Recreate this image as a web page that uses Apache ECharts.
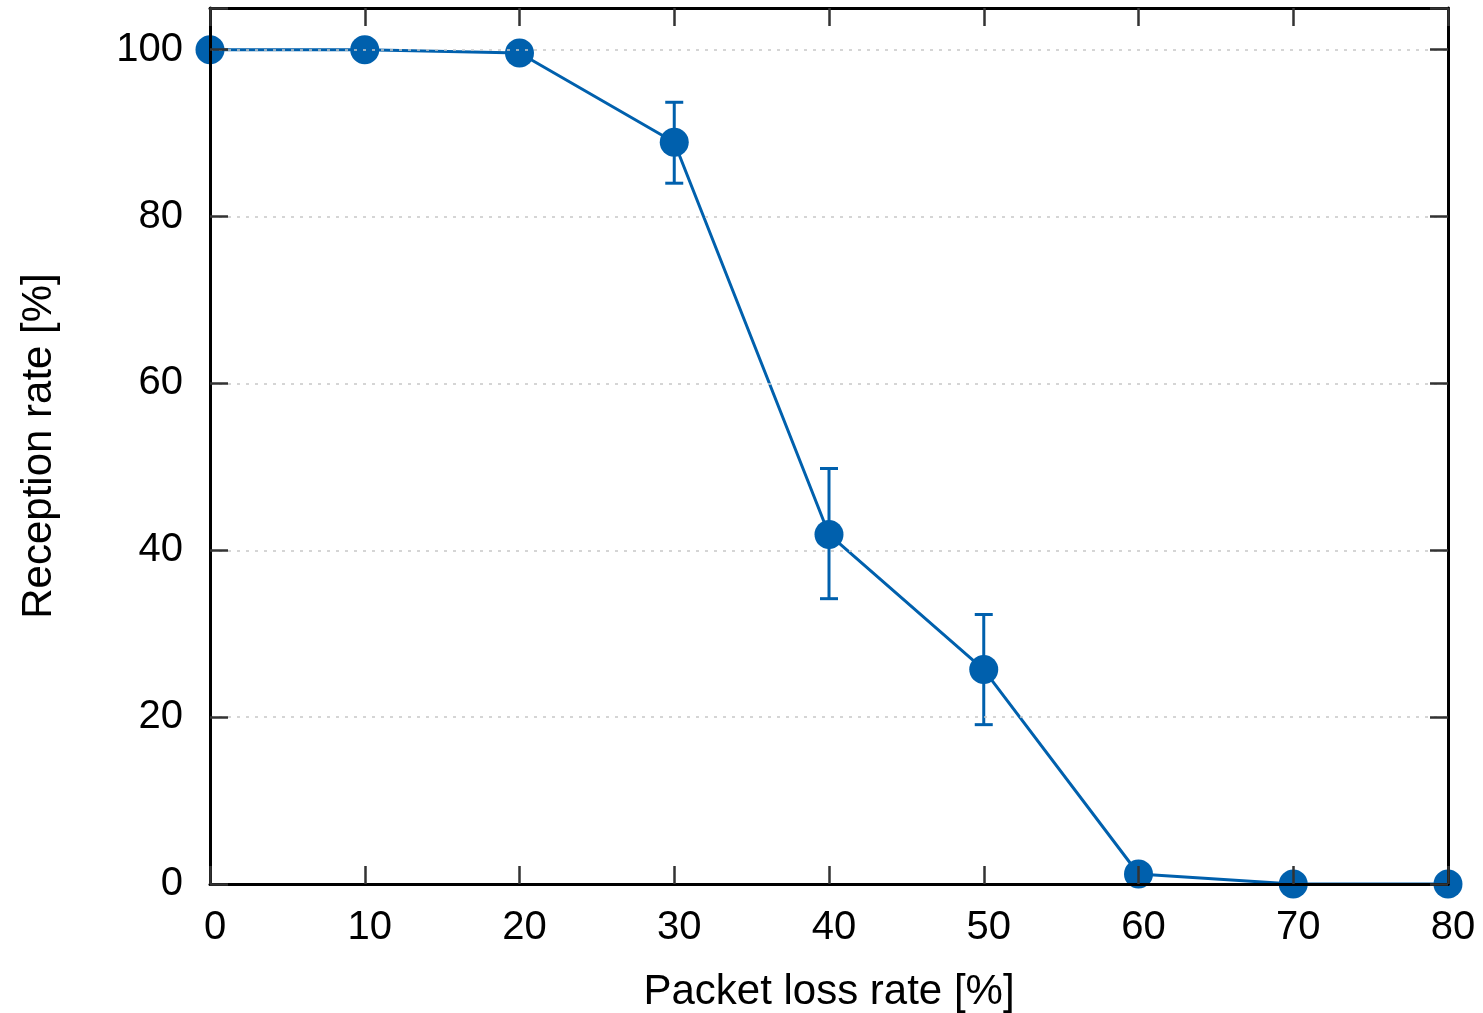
<!DOCTYPE html>
<html>
<head>
<meta charset="utf-8">
<title>Reception rate vs packet loss rate</title>
<script src="https://cdn.jsdelivr.net/npm/echarts@6/dist/echarts.min.js"></script>
<style>
  html, body { margin: 0; padding: 0; background: #fff; }
  #chart { width: 1483px; height: 1013px; }
</style>
</head>
<body>
<div id="chart"></div>
<script>
// Packet loss rate [%] (x) against mean reception rate [%] (y)
const lossRate = [0, 10, 20, 30, 40, 50, 60, 70, 80];
const reception = [100, 100, 99.6, 88.9, 41.9, 25.7, 1.2, 0, 0];
// Error bar bounds (null where no bar is drawn)
const errLow = [null, null, null, 84.0, 34.2, 19.1, null, null, null];
const errHigh = [null, null, null, 93.7, 49.8, 32.3, null, null, null];

const xTicks = { min: 0, max: 80, interval: 10 };
const yTicks = { min: 0, max: 105, interval: 20 };

const blue = '#0060ad';
const font = 'Liberation Sans, Arial, Helvetica, sans-serif';

const lineData = lossRate.map((x, i) => [x, reception[i]]);
const errData = lossRate
  .map((x, i) => [x, errLow[i], errHigh[i]])
  .filter(d => d[1] != null && d[2] != null);

const frameLine = { show: true, onZero: false, lineStyle: { color: '#000', width: 3 } };
const innerTick = { show: true, inside: true, length: 18, lineStyle: { color: '#333', width: 2.5 } };
const yLabelFmt = v => (v % 20 === 0 ? String(v) : '');

const chart = echarts.init(document.getElementById('chart'), null, { renderer: 'canvas' });
chart.setOption({
  animation: false,
  backgroundColor: '#fff',
  textStyle: { fontFamily: font },
  grid: { left: 210, right: 35, top: 8, bottom: 129, containLabel: false, outerBoundsMode: 'none' },
  xAxis: [
    {
      type: 'value', position: 'bottom', ...xTicks, z: 10,
      name: 'Packet loss rate [%]', nameLocation: 'middle', nameGap: 87,
      nameTextStyle: { fontSize: 42, color: '#000', fontFamily: font },
      axisLine: frameLine, axisTick: innerTick,
      axisLabel: { fontSize: 40, color: '#000', margin: 24, fontFamily: font, padding: [0, 0, 0, 10] },
      splitLine: { show: false }
    },
    {
      type: 'value', position: 'top', ...xTicks, z: 10,
      axisLine: frameLine, axisTick: innerTick,
      axisLabel: { show: false }, splitLine: { show: false }
    }
  ],
  yAxis: [
    {
      type: 'value', position: 'left', ...yTicks, z: 10,
      name: 'Reception rate [%]', nameLocation: 'middle', nameGap: 150,
      nameTextStyle: { fontSize: 42, color: '#000', fontFamily: font },
      axisLine: frameLine, axisTick: innerTick,
      axisLabel: { fontSize: 40, color: '#000', margin: 27, fontFamily: font, formatter: yLabelFmt },
      splitLine: { show: true, lineStyle: { color: '#c8c8c8', width: 1.5, type: [3, 6] } }
    },
    {
      type: 'value', position: 'right', ...yTicks, z: 10,
      axisLine: frameLine, axisTick: innerTick,
      axisLabel: { show: false }, splitLine: { show: false }
    }
  ],
  series: [
    {
      type: 'custom',
      name: 'error',
      z: 1,
      xAxisIndex: 0, yAxisIndex: 0,
      data: errData,
      renderItem: function (params, api) {
        const x = api.value(0);
        const lo = api.coord([x, api.value(1)]);
        const hi = api.coord([x, api.value(2)]);
        const half = 9;
        const style = { stroke: blue, lineWidth: 3 };
        return {
          type: 'group',
          children: [
            { type: 'line', shape: { x1: lo[0], y1: lo[1], x2: hi[0], y2: hi[1] }, style },
            { type: 'line', shape: { x1: hi[0] - half, y1: hi[1], x2: hi[0] + half, y2: hi[1] }, style },
            { type: 'line', shape: { x1: lo[0] - half, y1: lo[1], x2: lo[0] + half, y2: lo[1] }, style }
          ]
        };
      }
    },
    {
      type: 'line',
      name: 'reception',
      z: 2,
      xAxisIndex: 0, yAxisIndex: 0,
      data: lineData,
      symbol: 'circle',
      symbolSize: 29,
      showAllSymbol: true,
      clip: false,
      lineStyle: { color: blue, width: 3 },
      itemStyle: { color: blue, borderWidth: 0 }
    }
  ]
});
</script>
</body>
</html>
